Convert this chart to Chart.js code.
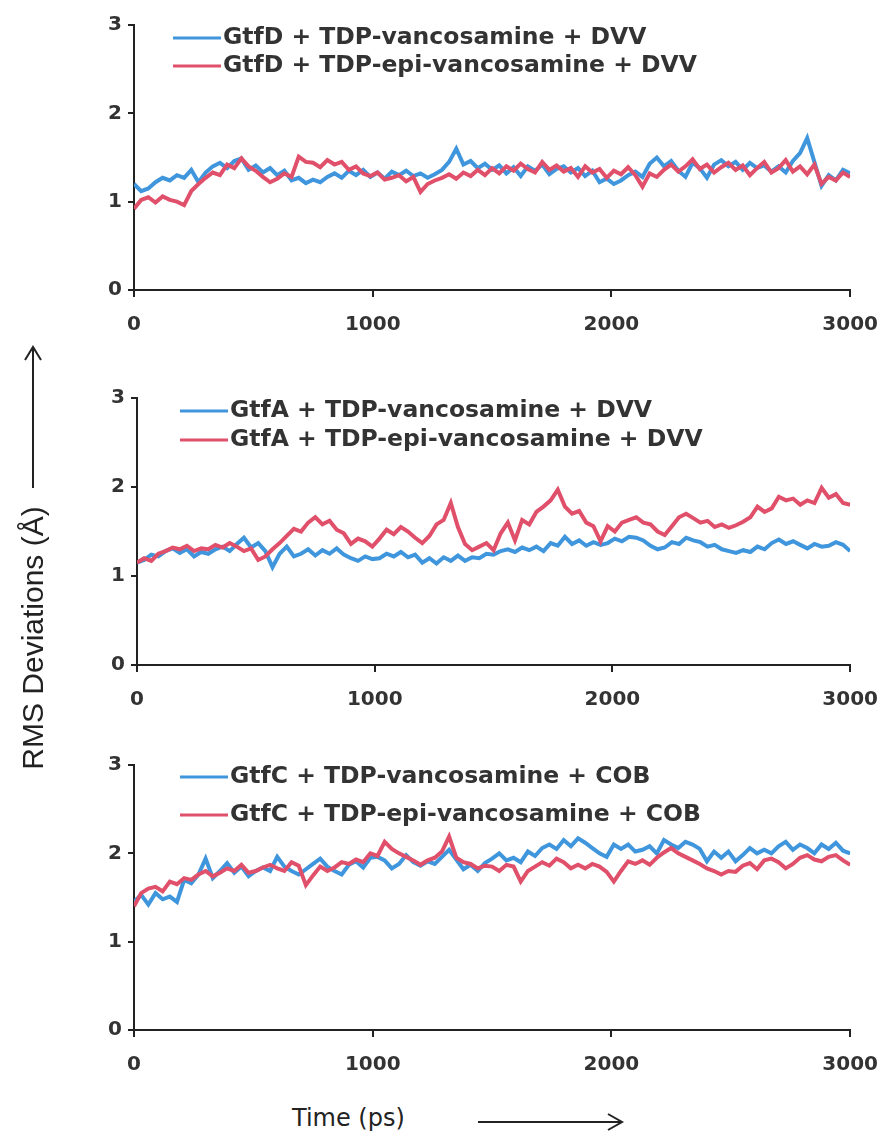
<!DOCTYPE html>
<html>
<head>
<meta charset="utf-8">
<script src="https://cdn.jsdelivr.net/npm/chart.js@4.4.1/dist/chart.umd.min.js"></script>
<style>
body { margin: 0; background: #fff; }
#page { position: relative; width: 894px; height: 1144px; overflow: hidden; background: #fff; }
canvas { position: absolute; left: 0; }
.ytitle { position: absolute; left: 33px; top: 638px; transform: translate(-50%, -50%) rotate(-90deg);
  font: 30px "Liberation Sans", Arial, sans-serif; color: #222; white-space: nowrap; }
.xtitle { position: absolute; left: 292px; top: 1104px; font: 24px "DejaVu Sans", Verdana, sans-serif; color: #222; white-space: nowrap; }
svg { position: absolute; left: 0; top: 0; }
</style>
</head>
<body>
<div id="page">
  <canvas id="panel1" width="894" height="345" style="top:0px"></canvas>
  <canvas id="panel2" width="894" height="375" style="top:345px"></canvas>
  <canvas id="panel3" width="894" height="370" style="top:720px"></canvas>
  <div class="ytitle">RMS Deviations (Å)</div>
  <div class="xtitle">Time (ps)</div>
  <svg width="894" height="1144">
    <!-- axis arrows -->
    <line x1="33" y1="488" x2="33" y2="348" stroke="#222" stroke-width="2"/>
    <polyline points="25,360 33,347 41,360" fill="none" stroke="#222" stroke-width="2"/>
    <line x1="478" y1="1122" x2="621" y2="1122" stroke="#222" stroke-width="2"/>
    <polyline points="608,1114 622,1122 608,1130" fill="none" stroke="#222" stroke-width="2"/>
  </svg>
</div>
<script>
// time axis, ps (every 30 ps)
const times = [
  0, 30, 60, 90, 120, 150, 180, 210, 240, 270,
  300, 330, 360, 390, 420, 450, 480, 510, 540, 570,
  600, 630, 660, 690, 720, 750, 780, 810, 840, 870,
  900, 930, 960, 990, 1020, 1050, 1080, 1110, 1140, 1170,
  1200, 1230, 1260, 1290, 1320, 1350, 1380, 1410, 1440, 1470,
  1500, 1530, 1560, 1590, 1620, 1650, 1680, 1710, 1740, 1770,
  1800, 1830, 1860, 1890, 1920, 1950, 1980, 2010, 2040, 2070,
  2100, 2130, 2160, 2190, 2220, 2250, 2280, 2310, 2340, 2370,
  2400, 2430, 2460, 2490, 2520, 2550, 2580, 2610, 2640, 2670,
  2700, 2730, 2760, 2790, 2820, 2850, 2880, 2910, 2940, 2970,
  3000
]

// GtfD panel
const gtfDVanc = [
  1.20, 1.12, 1.15, 1.22, 1.27, 1.24, 1.30, 1.27, 1.36, 1.22,
  1.33, 1.40, 1.44, 1.38, 1.46, 1.49, 1.36, 1.41, 1.33, 1.38,
  1.30, 1.35, 1.24, 1.27, 1.21, 1.25, 1.22, 1.28, 1.32, 1.27,
  1.35, 1.30, 1.36, 1.28, 1.33, 1.26, 1.34, 1.30, 1.35, 1.29,
  1.32, 1.27, 1.31, 1.36, 1.45, 1.60, 1.42, 1.46, 1.38, 1.43,
  1.36, 1.41, 1.32, 1.39, 1.29, 1.40, 1.35, 1.42, 1.31, 1.37,
  1.40, 1.33, 1.38, 1.29, 1.35, 1.22, 1.26, 1.20, 1.24, 1.30,
  1.34, 1.28, 1.43, 1.50, 1.40, 1.46, 1.35, 1.28, 1.44, 1.38,
  1.27, 1.42, 1.47, 1.40, 1.45, 1.36, 1.44, 1.38, 1.41, 1.34,
  1.40, 1.33, 1.46, 1.55, 1.72, 1.45, 1.18, 1.30, 1.24, 1.36,
  1.32
]
const gtfDEpi = [
  0.92, 1.02, 1.05, 0.99, 1.06, 1.02, 1.00, 0.96, 1.12, 1.20,
  1.27, 1.33, 1.30, 1.42, 1.38, 1.49, 1.40, 1.35, 1.28, 1.22,
  1.26, 1.32, 1.28, 1.51, 1.45, 1.44, 1.39, 1.47, 1.42, 1.45,
  1.36, 1.40, 1.32, 1.29, 1.33, 1.25, 1.27, 1.30, 1.23, 1.28,
  1.11, 1.20, 1.24, 1.27, 1.31, 1.26, 1.33, 1.29, 1.36, 1.30,
  1.38, 1.32, 1.40, 1.35, 1.43, 1.37, 1.33, 1.45, 1.36, 1.41,
  1.34, 1.38, 1.28, 1.40, 1.33, 1.37, 1.27, 1.35, 1.31, 1.39,
  1.30, 1.17, 1.32, 1.28, 1.36, 1.42, 1.34, 1.40, 1.48, 1.37,
  1.42, 1.33, 1.39, 1.44, 1.36, 1.41, 1.30, 1.38, 1.45, 1.33,
  1.38, 1.47, 1.34, 1.40, 1.31, 1.42, 1.20, 1.28, 1.24, 1.33,
  1.28
]

// GtfA panel
const gtfAVanc = [
  1.15, 1.18, 1.24, 1.22, 1.28, 1.31, 1.26, 1.30, 1.22, 1.27,
  1.25, 1.30, 1.33, 1.28, 1.36, 1.43, 1.32, 1.37, 1.28, 1.10,
  1.25, 1.33, 1.22, 1.25, 1.30, 1.23, 1.29, 1.25, 1.31, 1.24,
  1.20, 1.17, 1.22, 1.19, 1.20, 1.25, 1.22, 1.27, 1.21, 1.24,
  1.15, 1.20, 1.14, 1.21, 1.17, 1.23, 1.17, 1.21, 1.20, 1.25,
  1.24, 1.28, 1.30, 1.27, 1.32, 1.29, 1.33, 1.28, 1.37, 1.34,
  1.44, 1.36, 1.40, 1.34, 1.38, 1.35, 1.37, 1.42, 1.39, 1.44,
  1.43, 1.40, 1.34, 1.30, 1.32, 1.38, 1.36, 1.43, 1.40, 1.38,
  1.33, 1.35, 1.30, 1.28, 1.26, 1.29, 1.27, 1.33, 1.30, 1.37,
  1.41, 1.36, 1.39, 1.35, 1.31, 1.36, 1.33, 1.34, 1.38, 1.35,
  1.28
]
const gtfAEpi = [
  1.15, 1.20, 1.17, 1.25, 1.28, 1.32, 1.30, 1.34, 1.28, 1.31,
  1.30, 1.35, 1.32, 1.37, 1.33, 1.28, 1.31, 1.18, 1.22, 1.30,
  1.37, 1.45, 1.53, 1.50, 1.60, 1.66, 1.58, 1.62, 1.52, 1.48,
  1.36, 1.42, 1.39, 1.33, 1.42, 1.52, 1.47, 1.55, 1.50, 1.43,
  1.37, 1.45, 1.58, 1.63, 1.82, 1.55, 1.36, 1.29, 1.33, 1.37,
  1.29, 1.48, 1.60, 1.40, 1.63, 1.58, 1.72, 1.78, 1.85, 1.97,
  1.78, 1.70, 1.73, 1.60, 1.56, 1.39, 1.56, 1.50, 1.60, 1.63,
  1.66, 1.60, 1.58, 1.50, 1.46, 1.56, 1.66, 1.70, 1.65, 1.60,
  1.62, 1.55, 1.58, 1.54, 1.57, 1.61, 1.66, 1.78, 1.72, 1.76,
  1.89, 1.85, 1.87, 1.80, 1.85, 1.82, 1.99, 1.88, 1.92, 1.82,
  1.80
]

// GtfC panel
const gtfCVanc = [
  1.45, 1.53, 1.42, 1.55, 1.48, 1.51, 1.45, 1.70, 1.66, 1.76,
  1.94, 1.72, 1.80, 1.89, 1.78, 1.85, 1.74, 1.80, 1.84, 1.80,
  1.96, 1.85, 1.80, 1.76, 1.82, 1.88, 1.94, 1.85, 1.80, 1.76,
  1.87, 1.91, 1.84, 1.95, 1.96, 1.92, 1.83, 1.88, 1.98, 1.90,
  1.86, 1.91, 1.88, 1.96, 2.04, 1.93, 1.82, 1.87, 1.80, 1.89,
  1.94, 2.00, 1.92, 1.95, 1.90, 2.02, 1.97, 2.06, 2.10, 2.05,
  2.15, 2.08, 2.17, 2.12, 2.06, 2.00, 1.96, 2.10, 2.05, 2.10,
  2.02, 2.04, 2.08, 2.00, 2.15, 2.10, 2.06, 2.13, 2.10, 2.05,
  1.91, 2.02, 1.95, 2.02, 1.91, 1.98, 2.06, 2.00, 2.04, 2.00,
  2.08, 2.13, 2.04, 2.10, 2.06, 2.00, 2.10, 2.05, 2.12, 2.03,
  2.00
]
const gtfCEpi = [
  1.40, 1.55, 1.60, 1.62, 1.57, 1.68, 1.65, 1.72, 1.70, 1.76,
  1.80, 1.74, 1.78, 1.83, 1.80, 1.87, 1.78, 1.80, 1.84, 1.87,
  1.83, 1.80, 1.90, 1.86, 1.64, 1.75, 1.85, 1.80, 1.84, 1.90,
  1.88, 1.93, 1.90, 2.00, 1.97, 2.13, 2.05, 2.00, 1.96, 1.92,
  1.87, 1.92, 1.95, 2.02, 2.19, 1.95, 1.90, 1.88, 1.83, 1.86,
  1.85, 1.80, 1.87, 1.85, 1.68, 1.80, 1.85, 1.90, 1.86, 1.94,
  1.90, 1.83, 1.87, 1.83, 1.88, 1.85, 1.79, 1.68, 1.80, 1.91,
  1.88, 1.92, 1.87, 1.95, 2.01, 2.06, 2.00, 1.96, 1.92, 1.88,
  1.83, 1.80, 1.76, 1.80, 1.79, 1.86, 1.89, 1.82, 1.92, 1.94,
  1.90, 1.83, 1.88, 1.95, 1.98, 1.93, 1.91, 1.96, 1.98, 1.92,
  1.87
]

const blue = '#4096dc'
const red = '#e0506a'
const axisColor = '#222'
const tickFont = { family: '"DejaVu Sans", Verdana, sans-serif', size: 20, weight: 'bold' }

// draws the two-line legend inside the plot, top left
const insideLegend = {
  id: 'insideLegend',
  afterDraw(chart, args, opts) {
    const ctx = chart.ctx
    ctx.save()
    ctx.font = 'bold ' + opts.size + 'px "DejaVu Sans", Verdana, sans-serif'
    ctx.textBaseline = 'middle'
    chart.data.datasets.forEach((ds, i) => {
      const y = opts.y + i * opts.gap
      ctx.strokeStyle = ds.borderColor
      ctx.lineWidth = 3
      ctx.beginPath()
      ctx.moveTo(opts.x, y)
      ctx.lineTo(opts.x + 48, y)
      ctx.stroke()
      ctx.fillStyle = '#333'
      ctx.fillText(ds.label, opts.x + 50, y)
    })
    ctx.restore()
  }
}

function makePanel(id, names, blueData, redData, padTop, yWidth, xHeight, legend) {
  const ctx = document.getElementById(id).getContext('2d')
  return new Chart(ctx, {
    type: 'line',
    data: {
      labels: times,
      datasets: [
        { label: names[0], data: blueData, borderColor: blue, borderWidth: 4, pointRadius: 0, order: 1 },
        { label: names[1], data: redData, borderColor: red, borderWidth: 4, pointRadius: 0, order: 0 }
      ]
    },
    options: {
      responsive: false,
      animation: false,
      layout: { padding: { top: padTop, right: 37, left: 0, bottom: 0 } },
      plugins: {
        legend: { display: false },
        tooltip: { enabled: false },
        insideLegend: legend
      },
      scales: {
        x: {
          type: 'linear',
          min: 0, max: 3000,
          ticks: { stepSize: 1000, color: '#333', font: tickFont, padding: 16, maxRotation: 0,
            callback: (v) => String(v) },
          grid: { drawOnChartArea: false, color: axisColor, lineWidth: 2, tickLength: 7 },
          border: { color: axisColor, width: 2 },
          afterFit: (scale) => { scale.height = xHeight }
        },
        y: {
          min: 0, max: 3,
          ticks: { stepSize: 1, color: '#333', font: tickFont, padding: 6 },
          grid: { drawOnChartArea: false, color: axisColor, lineWidth: 2, tickLength: 6 },
          border: { color: axisColor, width: 2 },
          afterFit: (scale) => { scale.width = yWidth }
        }
      }
    },
    plugins: [insideLegend]
  })
}

makePanel('panel1', ['GtfD + TDP-vancosamine + DVV', 'GtfD + TDP-epi-vancosamine + DVV'],
  gtfDVanc, gtfDEpi, 25, 134, 55, { x: 173, y: 38, gap: 28, size: 23.5 })
makePanel('panel2', ['GtfA + TDP-vancosamine + DVV', 'GtfA + TDP-epi-vancosamine + DVV'],
  gtfAVanc, gtfAEpi, 53, 137, 55, { x: 180, y: 66, gap: 29, size: 23.5 })
makePanel('panel3', ['GtfC + TDP-vancosamine + COB', 'GtfC + TDP-epi-vancosamine + COB'],
  gtfCVanc, gtfCEpi, 45, 134, 60, { x: 180, y: 57, gap: 38, size: 23.5 })
</script>
</body>
</html>
